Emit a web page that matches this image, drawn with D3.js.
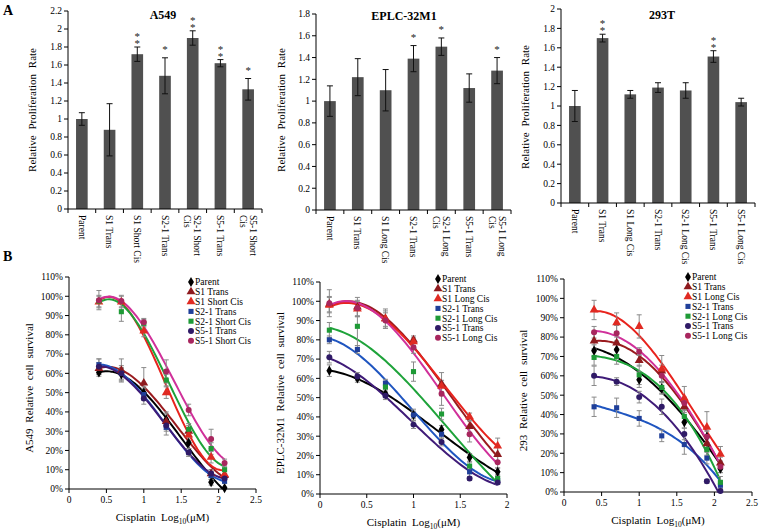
<!DOCTYPE html>
<html><head><meta charset="utf-8">
<script src="https://cdn.jsdelivr.net/npm/d3@7"></script>
<style>
html,body{margin:0;padding:0;background:#fff;}
svg, svg text{font-family:"Liberation Serif","Times New Roman",serif;}
</style></head>
<body>
<svg id="chart" width="760" height="532" font-family="Liberation Serif, Times New Roman, serif"></svg>
<script>
// ---------------- DATA: panel A (bar charts) ----------------
const a549Cats  = ["Parent","S1 Trans","S1 Short Cis","S2-1 Trans","S2-1 Short|Cis","S5-1 Trans","S5-1 Short|Cis"];
const a549Vals  = [1.00,0.88,1.72,1.48,1.90,1.62,1.33];
const a549Errs  = [0.07,0.29,0.08,0.20,0.08,0.04,0.12];
const a549Stars = ["","","**","*","**","**","*"];
const a549Ticks = [0,0.2,0.4,0.6,0.8,1,1.2,1.4,1.6,1.8,2,2.2];

const eplcCats  = ["Parent","S1 Trans","S1 Long Cis","S2-1 Trans","S2-1 Long|Cis","S5-1 Trans","S5-1 Long|Cis"];
const eplcVals  = [1.00,1.22,1.10,1.39,1.50,1.12,1.28];
const eplcErrs  = [0.14,0.17,0.19,0.12,0.08,0.13,0.12];
const eplcStars = ["","","","*","*","","*"];
const eplcTicks = [0,0.2,0.4,0.6,0.8,1,1.2,1.4,1.6,1.8];

const t293Cats  = ["Parent","S1 Trans","S1 Long Cis","S2-1 Trans","S2-1 Long Cis","S5-1 Trans","S5-1 Long Cis"];
const t293Vals  = [1.00,1.70,1.12,1.19,1.16,1.51,1.04];
const t293Errs  = [0.16,0.04,0.04,0.05,0.08,0.06,0.04];
const t293Stars = ["","**","","","","**",""];
const t293Ticks = [0,0.2,0.4,0.6,0.8,1,1.2,1.4,1.6,1.8,2];

// ---------------- DATA: panel B (dose response, % survival) ----------------
const b549Names = ["Parent","S1 Trans","S1 Short Cis","S2-1 Trans","S2-1 Short Cis","S5-1 Trans","S5-1 Short Cis"];
const b549X = [0.4,0.7,1.0,1.3,1.6,1.9,2.08];
const b549Parent = [60.5,59.5,50,36,24,3.5,0.5];
const b549S1T    = [62.5,61.5,55,35,30,8,7];
const b549S1C    = [97,97,82,50,28,16.5,7.5];
const b549S2T    = [64.5,60,49,32,19,7,4];
const b549S2C    = [97.5,92,86,56.5,31,21,10];
const b549S5T    = [63.5,60,47,33,19,8,5.5];
const b549S5C    = [98,97.5,86.5,61,41,26,13.5];
const b549ErrParent = [2,3,3,4,3,1.5,0.5];
const b549ErrS1T    = [3,6,8,4,3,2,1];
const b549ErrS1C    = [3,3,3,3,3,3,2];
const b549ErrS2T    = [3,3,3,4,2,2,1];
const b549ErrS2C    = [3,5,2,3,3,3,2];
const b549ErrS5T    = [4,4,3,3,2,2,1];
const b549ErrS5C    = [5,3,2,6,3,5,2];

const beplNames = ["Parent","S1 Trans","S1 Long Cis","S2-1 Trans","S2-1 Long Cis","S5-1 Trans","S5-1 Long Cis"];
const beplX = [0.1,0.4,0.7,1.0,1.3,1.6,1.9];
const beplParent = [64,60,52,41,33.5,19,11.5];
const beplS1T    = [98.5,97,91,80,57,35,20.5];
const beplS1C    = [98,96,91,79,56,40,25];
const beplS2T    = [80,75,57.5,41,31,11.5,7];
const beplS2C    = [85,87,55.5,63.5,41.5,14.5,8];
const beplS5T    = [71,61,51,36,27,8,6];
const beplS5C    = [99,96.5,90,76,52,31,16.5];
const beplErrParent = [3,2,2,2,2,2,2];
const beplErrS1T    = [4,5,5,2,6,3,4];
const beplErrS1C    = [4,4,4,2,3,2,4];
const beplErrS2T    = [2,2,2,3,2,3,2];
const beplErrS2C    = [4,10,3,5,3,2,2];
const beplErrS5T    = [3,2,2,2,2,1,1];
const beplErrS5C    = [7,4,4,3,6,4,3];

const b293Names = ["Parent","S1 Trans","S1 Long Cis","S2-1 Trans","S2-1 Long Cis","S5-1 Trans","S5-1 Long Cis"];
const b293X = [0.4,0.7,1.0,1.3,1.6,1.9,2.08];
const b293Parent = [73,73.5,58,53.5,36,28.5,12];
const b293S1T    = [78,77,68,62.5,44,25,15];
const b293S1C    = [94,87.5,85.5,63.5,48.5,33.5,19.5];
const b293S2T    = [44,43.5,38,29,24.5,17.5,3.5];
const b293S2C    = [69.5,70,60.5,54,39,22,5];
const b293S5T    = [60,57,49,44,30,5.5,0.5];
const b293S5C    = [82.5,82,72.5,60,46,28.5,13];
const b293ErrParent = [3,4,4,3,3,3,2];
const b293ErrS1T    = [4,3,3,3,3,4,3];
const b293ErrS1C    = [5,5,6,7,6,8,4];
const b293ErrS2T    = [5,5,4,3,5,3,2];
const b293ErrS2C    = [4,4,5,3,3,3,3];
const b293ErrS5T    = [5,2,3,4,3,1,1];
const b293ErrS5C    = [3,4,2,3,3,3,3];

const bYTicks = [0,10,20,30,40,50,60,70,80,90,100,110];
const bXTicks25 = [0,0.5,1,1.5,2,2.5];
const bXTicks20 = [0,0.5,1,1.5,2];

// ---------------- STYLE ----------------
const seriesColors = ["#000000","#9a1b1f","#e8231d","#1f55c0","#1ea33a","#3f1b78","#d0309a"];
const markerColors = ["#000000","#8e1a1e","#e02a22","#1f3f99","#1e9a36","#2f1a66","#a8265e"];
const seriesSymbols = [d3.symbolDiamond,d3.symbolTriangle,d3.symbolTriangle,d3.symbolSquare,d3.symbolSquare,d3.symbolCircle,d3.symbolCircle];
const symbolSizes = [30,34,34,26,26,28,28];
const TREND_ORDER = 3;

const svg = d3.select("#chart");

svg.append("text").attr("x",3).attr("y",15).attr("font-size",14).attr("font-weight","bold").text("A");
svg.append("text").attr("x",3).attr("y",261).attr("font-size",14).attr("font-weight","bold").text("B");

// ---------------- bar panel ----------------
function barPanel(cfg){
  const g = svg.append("g");
  const x = d3.scaleBand().domain(d3.range(cfg.cats.length)).range(cfg.xr).paddingInner(0.58).paddingOuter(0.29);
  const y = d3.scaleLinear().domain([0, cfg.ticks[cfg.ticks.length-1]]).range(cfg.yr);
  g.selectAll("rect.bar").data(cfg.vals).join("rect")
    .attr("x",(d,i)=>x(i)).attr("width",x.bandwidth())
    .attr("y",d=>y(d)).attr("height",d=>y(0)-y(d))
    .attr("fill","#505050");
  cfg.vals.forEach((v,i)=>{
    const cx = x(i)+x.bandwidth()/2, e = cfg.errs[i];
    const gg = g.append("g").attr("stroke","#111").attr("stroke-width",1);
    gg.append("line").attr("x1",cx).attr("x2",cx).attr("y1",y(v+e)).attr("y2",y(v-e));
    gg.append("line").attr("x1",cx-3).attr("x2",cx+3).attr("y1",y(v+e)).attr("y2",y(v+e));
    gg.append("line").attr("x1",cx-3).attr("x2",cx+3).attr("y1",y(v-e)).attr("y2",y(v-e));
    const s = cfg.stars[i];
    if(s.length){
      g.append("text").attr("x",cx).attr("y",y(v+e)-3)
        .attr("text-anchor","end")
        .style("writing-mode","vertical-rl").style("text-orientation","upright")
        .style("letter-spacing", s.length>1 ? "-5px" : "0px")
        .attr("font-size",11).attr("fill","#222").text(s);
    }
  });
  g.append("line").attr("x1",cfg.xr[0]).attr("x2",cfg.xr[0]).attr("y1",y(0)).attr("y2",y.range()[1]).attr("stroke","#000");
  cfg.ticks.forEach(t=>{
    g.append("line").attr("x1",cfg.xr[0]-4).attr("x2",cfg.xr[0]).attr("y1",y(t)).attr("y2",y(t)).attr("stroke","#000");
    g.append("text").attr("x",cfg.xr[0]-6).attr("y",y(t)).attr("dy","0.35em").attr("text-anchor","end")
      .attr("font-size",9.5).text(String(t));
  });
  g.append("line").attr("x1",cfg.xr[0]).attr("x2",cfg.xr[1]).attr("y1",y(0)).attr("y2",y(0)).attr("stroke","#000");
  for(let i=0;i<=cfg.cats.length;i++){
    const bx = cfg.xr[0] + i*x.step();
    g.append("line").attr("x1",bx).attr("x2",bx).attr("y1",y(0)).attr("y2",y(0)+4).attr("stroke","#000");
  }
  cfg.cats.forEach((c,i)=>{
    const cx = x(i)+x.bandwidth()/2;
    const lines = c.split("|");
    const t = g.append("text").attr("transform",`translate(${cx},${y(0)+6}) rotate(90)`).attr("font-size",9.5);
    lines.forEach((ln,k)=>{
      t.append("tspan").attr("x",0).attr("y",(k-(lines.length-1)/2)*10).attr("dy","0.35em").text(ln);
    });
  });
  g.append("text").attr("x",cfg.titleX).attr("y",cfg.titleY).attr("text-anchor","middle")
    .attr("font-size",12).attr("font-weight","bold").text(cfg.title);
  g.append("text").attr("transform",`translate(${cfg.ylabX},${cfg.ylabY}) rotate(-90)`)
    .attr("text-anchor","middle").attr("font-size",11).attr("word-spacing","3px").text("Relative Proliferation Rate");
}

barPanel({cats:a549Cats,vals:a549Vals,errs:a549Errs,stars:a549Stars,ticks:a549Ticks,
  xr:[68,262],yr:[209,11],title:"A549",titleX:163,titleY:19,ylabX:36,ylabY:110});
barPanel({cats:eplcCats,vals:eplcVals,errs:eplcErrs,stars:eplcStars,ticks:eplcTicks,
  xr:[316,511],yr:[210,14],title:"EPLC-32M1",titleX:404,titleY:20,ylabX:285,ylabY:110});
barPanel({cats:t293Cats,vals:t293Vals,errs:t293Errs,stars:t293Stars,ticks:t293Ticks,
  xr:[561,755],yr:[203,9],title:"293T",titleX:662,titleY:19,ylabX:529,ylabY:107});

// ---------------- polynomial least-squares trend line ----------------
function polyfit(xs, ys, deg){
  const n = deg+1;
  const A = Array.from({length:n},()=>new Array(n+1).fill(0));
  for(let r=0;r<n;r++){
    for(let c=0;c<n;c++) A[r][c] = d3.sum(xs, x=>Math.pow(x,r+c));
    A[r][n] = d3.sum(xs.map((x,i)=>Math.pow(x,r)*ys[i]));
  }
  for(let i=0;i<n;i++){
    let p=i; for(let k=i+1;k<n;k++) if(Math.abs(A[k][i])>Math.abs(A[p][i])) p=k;
    [A[i],A[p]]=[A[p],A[i]];
    for(let k=i+1;k<n;k++){ const f=A[k][i]/A[i][i]; for(let j=i;j<=n;j++) A[k][j]-=f*A[i][j]; }
  }
  const c = new Array(n).fill(0);
  for(let i=n-1;i>=0;i--){ let s=A[i][n]; for(let j=i+1;j<n;j++) s-=A[i][j]*c[j]; c[i]=s/A[i][i]; }
  return x => c.reduce((acc,ci,i)=>acc+ci*Math.pow(x,i),0);
}

// ---------------- dose-response panel ----------------
function dosePanel(cfg){
  const g = svg.append("g");
  const x = d3.scaleLinear().domain([0,cfg.xTicks[cfg.xTicks.length-1]]).range(cfg.xr);
  const y = d3.scaleLinear().domain([0,110]).range(cfg.yr);
  g.append("line").attr("x1",cfg.xr[0]).attr("x2",cfg.xr[0]).attr("y1",cfg.yr[0]).attr("y2",cfg.yr[1]).attr("stroke","#000");
  bYTicks.forEach(t=>{
    g.append("line").attr("x1",cfg.xr[0]-4).attr("x2",cfg.xr[0]).attr("y1",y(t)).attr("y2",y(t)).attr("stroke","#000");
    g.append("text").attr("x",cfg.xr[0]-6).attr("y",y(t)).attr("dy","0.35em").attr("text-anchor","end")
      .attr("font-size",9.5).text(t+"%");
  });
  g.append("line").attr("x1",cfg.xr[0]).attr("x2",cfg.xr[1]).attr("y1",cfg.yr[0]).attr("y2",cfg.yr[0]).attr("stroke","#000");
  cfg.xTicks.forEach(t=>{
    g.append("line").attr("x1",x(t)).attr("x2",x(t)).attr("y1",cfg.yr[0]).attr("y2",cfg.yr[0]+4).attr("stroke","#000");
    g.append("text").attr("x",x(t)).attr("y",cfg.yr[0]+14).attr("text-anchor","middle").attr("font-size",9.5).text(String(t));
  });
  const xt = g.append("text").attr("x",(cfg.xr[0]+cfg.xr[1])/2).attr("y",cfg.yr[0]+32).attr("text-anchor","middle").attr("font-size",11);
  xt.append("tspan").text("Cisplatin\u00A0\u00A0Log");
  xt.append("tspan").attr("font-size",7.5).attr("dy",3).text("10");
  xt.append("tspan").attr("dy",-3).text("(\u03BCM)");
  g.append("text").attr("transform",`translate(${cfg.ylabX},${(cfg.yr[0]+cfg.yr[1])/2+5}) rotate(-90)`)
    .attr("text-anchor","middle").attr("font-size",11).attr("word-spacing","3px").text(cfg.ylab);
  cfg.series.forEach((s,si)=>{
    const f = polyfit(cfg.xs, s.vals, TREND_ORDER);
    const xx = d3.range(0,61).map(k=>cfg.xs[0]+(cfg.xs[cfg.xs.length-1]-cfg.xs[0])*k/60);
    g.append("path").datum(xx).attr("fill","none").attr("stroke",seriesColors[si]).attr("stroke-width",2)
      .attr("d",d3.line().x(d=>x(d)).y(d=>y(Math.max(0,f(d)))));
  });
  cfg.series.forEach((s,si)=>{
    s.vals.forEach((v,i)=>{
      const cx = x(cfg.xs[i]), e = s.errs[i];
      const gg = g.append("g").attr("stroke","#8a8a8a").attr("stroke-width",1);
      gg.append("line").attr("x1",cx).attr("x2",cx).attr("y1",y(v+e)).attr("y2",y(Math.max(0,v-e)));
      gg.append("line").attr("x1",cx-2.5).attr("x2",cx+2.5).attr("y1",y(v+e)).attr("y2",y(v+e));
      gg.append("line").attr("x1",cx-2.5).attr("x2",cx+2.5).attr("y1",y(Math.max(0,v-e))).attr("y2",y(Math.max(0,v-e)));
    });
  });
  cfg.series.forEach((s,si)=>{
    const sym = d3.symbol().type(seriesSymbols[si]).size(symbolSizes[si]);
    s.vals.forEach((v,i)=>{
      g.append("path").attr("d",sym()).attr("transform",`translate(${x(cfg.xs[i])},${y(v)})`).attr("fill",markerColors[si]);
    });
  });
  cfg.names.forEach((n,si)=>{
    const ly = cfg.legY + si*9.8;
    const sym = d3.symbol().type(seriesSymbols[si]).size(symbolSizes[si]);
    g.append("path").attr("d",sym()).attr("transform",`translate(${cfg.legX},${ly})`).attr("fill",markerColors[si]);
    g.append("text").attr("x",cfg.legX+4).attr("y",ly).attr("dy","0.35em").attr("font-size",9.5).text(n);
  });
}

dosePanel({xr:[69,256],yr:[489,277],xTicks:bXTicks25,xs:b549X,names:b549Names,ylab:"A549 Relative cell survival",ylabX:33,
  legX:191,legY:282,
  series:[{vals:b549Parent,errs:b549ErrParent},{vals:b549S1T,errs:b549ErrS1T},{vals:b549S1C,errs:b549ErrS1C},
          {vals:b549S2T,errs:b549ErrS2T},{vals:b549S2C,errs:b549ErrS2C},{vals:b549S5T,errs:b549ErrS5T},{vals:b549S5C,errs:b549ErrS5C}]});
dosePanel({xr:[320,507],yr:[494,282],xTicks:bXTicks20,xs:beplX,names:beplNames,ylab:"EPLC-32M1 Relative cell survival",ylabX:284,
  legX:438,legY:279,
  series:[{vals:beplParent,errs:beplErrParent},{vals:beplS1T,errs:beplErrS1T},{vals:beplS1C,errs:beplErrS1C},
          {vals:beplS2T,errs:beplErrS2T},{vals:beplS2C,errs:beplErrS2C},{vals:beplS5T,errs:beplErrS5T},{vals:beplS5C,errs:beplErrS5C}]});
dosePanel({xr:[564,752],yr:[492,279],xTicks:bXTicks25,xs:b293X,names:b293Names,ylab:"293 Relative cell survival",ylabX:527,
  legX:688,legY:277,
  series:[{vals:b293Parent,errs:b293ErrParent},{vals:b293S1T,errs:b293ErrS1T},{vals:b293S1C,errs:b293ErrS1C},
          {vals:b293S2T,errs:b293ErrS2T},{vals:b293S2C,errs:b293ErrS2C},{vals:b293S5T,errs:b293ErrS5T},{vals:b293S5C,errs:b293ErrS5C}]});
</script>
</body></html>
